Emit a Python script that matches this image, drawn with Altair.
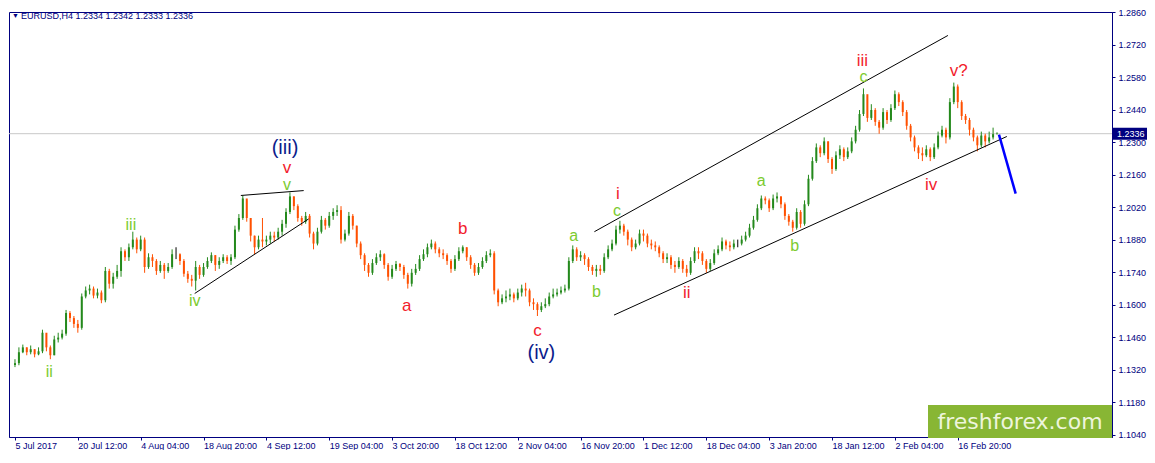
import altair as alt
import pandas as pd

# ---------------- data ----------------
first_open = 1.1340
closes = [
    1.1348, 1.1395, 1.1416, 1.1395, 1.1408, 1.1386, 1.1399, 1.1479, 1.1416, 1.1382,
    1.1450, 1.1458, 1.1475, 1.1564, 1.1542, 1.1517, 1.1500, 1.1635, 1.1661, 1.1669,
    1.1639, 1.1652, 1.1619, 1.1745, 1.1690, 1.1720, 1.1745, 1.1830, 1.1804, 1.1847,
    1.1880, 1.1838, 1.1880, 1.1762, 1.1804, 1.1788, 1.1745, 1.1771, 1.1745, 1.1762,
    1.1817, 1.1817, 1.1788, 1.1733, 1.1711, 1.1703, 1.1762, 1.1728, 1.1762, 1.1788,
    1.1813, 1.1771, 1.1788, 1.1804, 1.1788, 1.1804, 1.1923, 1.1973, 1.2057, 1.1973,
    1.1897, 1.1847, 1.1880, 1.1872, 1.1880, 1.1897, 1.1889, 1.1914, 1.1948, 1.1999,
    1.2066, 1.2024, 1.1973, 1.1957, 1.1982, 1.1906, 1.1863, 1.1914, 1.1965, 1.1940,
    1.1982, 1.1999, 1.2007, 1.1880, 1.1906, 1.1982, 1.1940, 1.1863, 1.1813, 1.1771,
    1.1737, 1.1779, 1.1804, 1.1817, 1.1771, 1.1720, 1.1754, 1.1775, 1.1762, 1.1728,
    1.1690, 1.1737, 1.1754, 1.1796, 1.1817, 1.1847, 1.1863, 1.1838, 1.1821, 1.1813,
    1.1788, 1.1754, 1.1796, 1.1830, 1.1847, 1.1804, 1.1771, 1.1737, 1.1762, 1.1788,
    1.1813, 1.1821, 1.1661, 1.1610, 1.1627, 1.1635, 1.1644, 1.1627, 1.1652, 1.1669,
    1.1661, 1.1610, 1.1602, 1.1577, 1.1593, 1.1602, 1.1635, 1.1644, 1.1652, 1.1661,
    1.1669, 1.1788, 1.1838, 1.1804, 1.1813, 1.1796, 1.1762, 1.1745, 1.1754, 1.1745,
    1.1804, 1.1838, 1.1863, 1.1923, 1.1940, 1.1914, 1.1880, 1.1847, 1.1863, 1.1906,
    1.1897, 1.1863, 1.1855, 1.1847, 1.1821, 1.1796, 1.1804, 1.1771, 1.1762, 1.1788,
    1.1754, 1.1737, 1.1788, 1.1830, 1.1821, 1.1788, 1.1754, 1.1779, 1.1821, 1.1838,
    1.1872, 1.1855, 1.1847, 1.1863, 1.1863, 1.1880, 1.1897, 1.1931, 1.1965, 1.2015,
    1.2057, 1.2049, 1.2015, 1.2057, 1.2066, 1.2032, 1.1982, 1.1957, 1.1931, 1.1999,
    1.1948, 1.2032, 1.2142, 1.2218, 1.2277, 1.2252, 1.2303, 1.2227, 1.2184, 1.2243,
    1.2269, 1.2235, 1.2260, 1.2303, 1.2353, 1.2421, 1.2506, 1.2404, 1.2438, 1.2387,
    1.2362, 1.2429, 1.2395, 1.2446, 1.2506, 1.2472, 1.2429, 1.2370, 1.2320, 1.2277,
    1.2252, 1.2243, 1.2269, 1.2235, 1.2277, 1.2328, 1.2353, 1.2320, 1.2472, 1.2539,
    1.2472, 1.2412, 1.2395, 1.2353, 1.2320, 1.2286, 1.2328, 1.2303, 1.2320, 1.2334, 1.2336,
]
highs = [
    1.1365, 1.1416, 1.1428, 1.1416, 1.1424, 1.1408, 1.1416, 1.1492, 1.1475, 1.1424,
    1.1466, 1.1479, 1.1492, 1.1577, 1.1572, 1.1551, 1.1534, 1.1648, 1.1678, 1.1686,
    1.1678, 1.1669, 1.1661, 1.1762, 1.1754, 1.1737, 1.1771, 1.1847, 1.1838, 1.1863,
    1.1914, 1.1889, 1.1897, 1.1889, 1.1821, 1.1817, 1.1796, 1.1788, 1.1779, 1.1779,
    1.1838, 1.1847, 1.1821, 1.1796, 1.1745, 1.1728, 1.1788, 1.1771, 1.1779, 1.1804,
    1.1825, 1.1813, 1.1804, 1.1817, 1.1813, 1.1817, 1.1940, 1.1990, 1.2070, 1.2049,
    1.1973, 1.1897, 1.1897, 1.1973, 1.1897, 1.1914, 1.1914, 1.1931, 1.1965, 1.2015,
    1.2083, 1.2066, 1.2032, 1.1982, 1.1999, 1.1990, 1.1914, 1.1931, 1.1982, 1.1973,
    1.1999, 1.2015, 1.2028, 1.2024, 1.1923, 1.1999, 1.1990, 1.1940, 1.1872, 1.1821,
    1.1779, 1.1796, 1.1821, 1.1834, 1.1821, 1.1779, 1.1771, 1.1788, 1.1779, 1.1771,
    1.1737, 1.1754, 1.1775, 1.1813, 1.1838, 1.1863, 1.1880, 1.1872, 1.1847, 1.1838,
    1.1821, 1.1796, 1.1813, 1.1847, 1.1855, 1.1847, 1.1813, 1.1779, 1.1779, 1.1804,
    1.1830, 1.1838, 1.1830, 1.1669, 1.1644, 1.1661, 1.1669, 1.1652, 1.1669, 1.1686,
    1.1694, 1.1669, 1.1627, 1.1610, 1.1610, 1.1627, 1.1652, 1.1669, 1.1669, 1.1678,
    1.1686, 1.1804, 1.1855, 1.1847, 1.1830, 1.1821, 1.1804, 1.1771, 1.1771, 1.1771,
    1.1821, 1.1855, 1.1880, 1.1940, 1.1961, 1.1948, 1.1923, 1.1889, 1.1880, 1.1923,
    1.1923, 1.1906, 1.1880, 1.1872, 1.1855, 1.1830, 1.1821, 1.1813, 1.1788, 1.1804,
    1.1796, 1.1771, 1.1804, 1.1847, 1.1847, 1.1830, 1.1796, 1.1796, 1.1838, 1.1855,
    1.1889, 1.1880, 1.1872, 1.1880, 1.1880, 1.1897, 1.1914, 1.1948, 1.1982, 1.2032,
    1.2070, 1.2066, 1.2057, 1.2074, 1.2083, 1.2066, 1.2040, 1.1990, 1.1965, 1.2015,
    1.2007, 1.2049, 1.2159, 1.2235, 1.2294, 1.2286, 1.2320, 1.2303, 1.2235, 1.2260,
    1.2286, 1.2277, 1.2277, 1.2320, 1.2370, 1.2438, 1.2531, 1.2497, 1.2463, 1.2446,
    1.2395, 1.2446, 1.2438, 1.2463, 1.2522, 1.2514, 1.2480, 1.2438, 1.2378, 1.2328,
    1.2286, 1.2277, 1.2286, 1.2277, 1.2294, 1.2345, 1.2370, 1.2362, 1.2489, 1.2556,
    1.2548, 1.2480, 1.2421, 1.2404, 1.2362, 1.2328, 1.2345, 1.2336, 1.2345, 1.2362, 1.2342,
]
lows = [
    1.1331, 1.1339, 1.1391, 1.1382, 1.1386, 1.1373, 1.1382, 1.1391, 1.1399, 1.1365,
    1.1382, 1.1437, 1.1450, 1.1466, 1.1525, 1.1500, 1.1479, 1.1492, 1.1627, 1.1644,
    1.1627, 1.1627, 1.1606, 1.1610, 1.1669, 1.1669, 1.1711, 1.1720, 1.1788, 1.1788,
    1.1838, 1.1821, 1.1830, 1.1737, 1.1754, 1.1762, 1.1728, 1.1737, 1.1711, 1.1737,
    1.1754, 1.1796, 1.1771, 1.1720, 1.1694, 1.1678, 1.1661, 1.1711, 1.1720, 1.1754,
    1.1779, 1.1745, 1.1754, 1.1779, 1.1775, 1.1771, 1.1796, 1.1914, 1.1965, 1.1957,
    1.1872, 1.1817, 1.1838, 1.1847, 1.1855, 1.1863, 1.1872, 1.1880, 1.1897, 1.1931,
    1.1990, 1.2007, 1.1957, 1.1940, 1.1948, 1.1889, 1.1838, 1.1855, 1.1906, 1.1923,
    1.1931, 1.1965, 1.1982, 1.1863, 1.1872, 1.1897, 1.1923, 1.1847, 1.1796, 1.1745,
    1.1720, 1.1728, 1.1771, 1.1788, 1.1754, 1.1703, 1.1711, 1.1745, 1.1745, 1.1711,
    1.1669, 1.1678, 1.1728, 1.1745, 1.1788, 1.1804, 1.1838, 1.1821, 1.1804, 1.1796,
    1.1771, 1.1737, 1.1745, 1.1788, 1.1821, 1.1788, 1.1754, 1.1724, 1.1728, 1.1754,
    1.1779, 1.1804, 1.1644, 1.1593, 1.1602, 1.1610, 1.1619, 1.1610, 1.1619, 1.1635,
    1.1635, 1.1593, 1.1577, 1.1551, 1.1568, 1.1585, 1.1593, 1.1627, 1.1635, 1.1644,
    1.1652, 1.1661, 1.1779, 1.1788, 1.1788, 1.1771, 1.1745, 1.1728, 1.1720, 1.1728,
    1.1737, 1.1796, 1.1830, 1.1855, 1.1906, 1.1897, 1.1855, 1.1830, 1.1838, 1.1855,
    1.1872, 1.1847, 1.1838, 1.1830, 1.1804, 1.1779, 1.1779, 1.1754, 1.1737, 1.1754,
    1.1737, 1.1720, 1.1728, 1.1779, 1.1796, 1.1771, 1.1737, 1.1745, 1.1771, 1.1813,
    1.1830, 1.1838, 1.1830, 1.1838, 1.1847, 1.1855, 1.1872, 1.1889, 1.1923, 1.1957,
    1.2007, 1.2032, 1.1999, 1.2007, 1.2040, 1.2015, 1.1965, 1.1940, 1.1914, 1.1923,
    1.1931, 1.1940, 1.2024, 1.2134, 1.2210, 1.2235, 1.2243, 1.2210, 1.2163, 1.2176,
    1.2227, 1.2218, 1.2227, 1.2252, 1.2294, 1.2345, 1.2412, 1.2387, 1.2395, 1.2370,
    1.2336, 1.2353, 1.2378, 1.2387, 1.2438, 1.2455, 1.2412, 1.2353, 1.2303, 1.2260,
    1.2227, 1.2218, 1.2235, 1.2218, 1.2227, 1.2269, 1.2320, 1.2294, 1.2311, 1.2463,
    1.2446, 1.2395, 1.2378, 1.2328, 1.2303, 1.2260, 1.2277, 1.2277, 1.2294, 1.2311, 1.2333,
]

x_labels = ["5 Jul 2017", "20 Jul 12:00", "4 Aug 04:00", "18 Aug 20:00", "4 Sep 12:00",
            "19 Sep 04:00", "3 Oct 20:00", "18 Oct 12:00", "2 Nov 04:00", "16 Nov 20:00",
            "1 Dec 12:00", "18 Dec 04:00", "3 Jan 20:00", "18 Jan 12:00", "2 Feb 04:00",
            "16 Feb 20:00"]
bars_per_label = 16
y_ticks = [1.1040, 1.1180, 1.1320, 1.1460, 1.1600, 1.1740, 1.1880, 1.2020,
           1.2160, 1.2300, 1.2440, 1.2580, 1.2720, 1.2860]
last_price = 1.2336
header_text = "EURUSD,H4  1.2334 1.2342 1.2333 1.2336"

wave_text = ["(iii)", "v", "v", "iii", "ii", "iv", "a", "b", "c", "(iv)",
             "a", "b", "i", "c", "ii", "a", "b", "iii", "c", "iv", "v?"]
wave_idx = [68.75, 69.25, 69.25, 29.5, 8.75, 45.75, 99.75, 114.0, 133.0, 134.0,
            142.25, 148.0, 153.5, 153.25, 171.0, 190.0, 198.5, 215.75, 216.0, 233.25, 240.25]
wave_price = [1.2276, 1.2189, 1.2113, 1.1944, 1.1310, 1.1614, 1.1593, 1.1927, 1.1488, 1.1390,
              1.1897, 1.1656, 1.2075, 1.2003, 1.1648, 1.2134, 1.1851, 1.2649, 1.2579, 1.2117, 1.2607]
wave_kind = ["navy", "red", "green", "green", "green", "green", "red", "red", "red", "navy",
             "green", "green", "red", "green", "red", "green", "green", "red", "green", "red", "red"]

trend_seg = ["tri_up", "tri_up", "tri_lo", "tri_lo", "ch_up", "ch_up", "ch_lo", "ch_lo"]
trend_idx = [57.5, 73.5, 45.75, 74.75, 147.5, 237.5, 152.5, 252.5]
trend_price = [1.2070, 1.2091, 1.1648, 1.1969, 1.1914, 1.2759, 1.1555, 1.2324]

arrow_idx = [250.5, 254.75]
arrow_price = [1.2332, 1.2078]

# ---------------- styling ----------------
NAVY = "#000080"
FONT = "Liberation Sans"
CANDLE_COLORS = {"up": "#24891c", "down": "#ff5000", "flat": "#000000"}
WAVE_COLORS = {"navy": "#0c1c8c", "red": "#f21c2c", "green": "#7ccb30"}
WAVE_SIZES = {"navy": 20, "red": 17, "green": 16}

# ---------------- tables ----------------
opens = [first_open] + closes[:-1]
direction = ["up" if c > o else ("down" if c < o else "flat") for o, c in zip(opens, closes)]
candles = pd.DataFrame({
    "idx": list(range(len(closes))), "open": opens, "high": highs,
    "low": lows, "close": closes, "col": [CANDLE_COLORS[d] for d in direction],
})
waves = pd.DataFrame({"t": wave_text, "idx": wave_idx, "price": wave_price,
                      "col": [WAVE_COLORS[k] for k in wave_kind],
                      "sz": [WAVE_SIZES[k] for k in wave_kind]})
trend = pd.DataFrame({"seg": trend_seg, "idx": trend_idx, "price": trend_price})
arrow = pd.DataFrame({"idx": arrow_idx, "price": arrow_price})
last_df = pd.DataFrame({"price": [last_price], "t": [f"{last_price:.4f}"]})

W, H = 1103, 425
PAD = {"left": 1, "top": 4, "right": 35, "bottom": 13}

label_js = "[" + ",".join("'" + s + "'" for s in x_labels) + "]"
x_axis = alt.Axis(values=[i * bars_per_label for i in range(len(x_labels))],
                  labelExpr=f"{label_js}[round(datum.value/{bars_per_label})]",
                  orient="bottom", grid=False, title=None, domainColor=NAVY,
                  tickColor=NAVY, tickSize=3, labelColor=NAVY, labelAlign="left",
                  labelFont=FONT, labelFontSize=9, labelPadding=1,
                  labelOverlap=False, labelFlush=False, labelBound=False)
y_axis = alt.Axis(values=y_ticks, format=".4f", orient="right", grid=False, title=None,
                  domainColor=NAVY, tickColor=NAVY, tickSize=3, labelColor=NAVY,
                  labelFont=FONT, labelFontSize=9, labelPadding=3,
                  labelOverlap=False, labelFlush=False, labelBound=False)
xs = alt.Scale(domain=[-0.25, 278], nice=False, zero=False)
ys = alt.Scale(domain=[1.1030, 1.2860], nice=False, zero=False)


def X(f):
    return alt.X(f, scale=xs, axis=x_axis, title=None)


def Y(f):
    return alt.Y(f, scale=ys, axis=y_axis, title=None)


ccolor = alt.Color("col:N", scale=None)

wick = alt.Chart(candles).mark_rule(strokeWidth=1, clip=True).encode(
    x=X("idx:Q"), y=Y("low:Q"), y2="high:Q", color=ccolor)
body = alt.Chart(candles).mark_bar(size=2, clip=True).encode(
    x=X("idx:Q"), y=Y("open:Q"), y2="close:Q", color=ccolor)

hline = alt.Chart(last_df).mark_rule(color="#c8c8c8", strokeWidth=1).encode(y=Y("price:Q"))

trend_lines = alt.Chart(trend).mark_line(color="black", strokeWidth=1).encode(
    x=X("idx:Q"), y=Y("price:Q"), detail="seg:N")
arrow_line = alt.Chart(arrow).mark_line(color="#0000ff", strokeWidth=2.5).encode(
    x=X("idx:Q"), y=Y("price:Q"))

wave_labels = alt.Chart(waves).mark_text(font=FONT, baseline="middle", align="center").encode(
    x=X("idx:Q"), y=Y("price:Q"), text="t:N",
    color=alt.Color("col:N", scale=None), size=alt.Size("sz:Q", scale=None))

hdr_tri = alt.Chart(last_df).mark_text(text="▼", fontSize=7, color=NAVY, align="left",
                                       baseline="middle").encode(x=alt.value(3), y=alt.value(4))
hdr = alt.Chart(last_df).mark_text(text=header_text, fontSize=9, font=FONT,
                                   color=NAVY, align="left", baseline="middle").encode(
    x=alt.value(12), y=alt.value(4))

price_box = alt.Chart(last_df).mark_rect(color=NAVY, yOffset=-6, y2Offset=6, clip=False).encode(
    x=alt.value(W + 1), x2=alt.value(W + 35), y=Y("price:Q"), y2="price:Q")
price_txt = alt.Chart(last_df).mark_text(color="white", fontSize=9, font=FONT,
                                         align="left", baseline="middle", clip=False).encode(
    x=alt.value(W + 5), y=Y("price:Q"), text="t:N")

wm_rect = alt.Chart(last_df).mark_rect(color="#88b634").encode(
    x=alt.value(919), x2=alt.value(W), y=alt.value(393), y2=alt.value(H + 1))
wm_text = alt.Chart(last_df).mark_text(text="freshforex.com", font="DejaVu Sans", fontSize=22,
                                       color="#eef5dc", align="center", baseline="middle").encode(
    x=alt.value(1011), y=alt.value(410))

chart = alt.layer(
    hline, wick, body, trend_lines, arrow_line, wave_labels, hdr_tri, hdr,
    price_box, price_txt, wm_rect, wm_text
).properties(
    width=W, height=H,
    autosize=alt.AutoSizeParams(type="none"),
    padding=PAD
).configure_view(stroke=NAVY, strokeWidth=1)

chart.save("out.html", embed_options={"renderer": "svg", "actions": False})
